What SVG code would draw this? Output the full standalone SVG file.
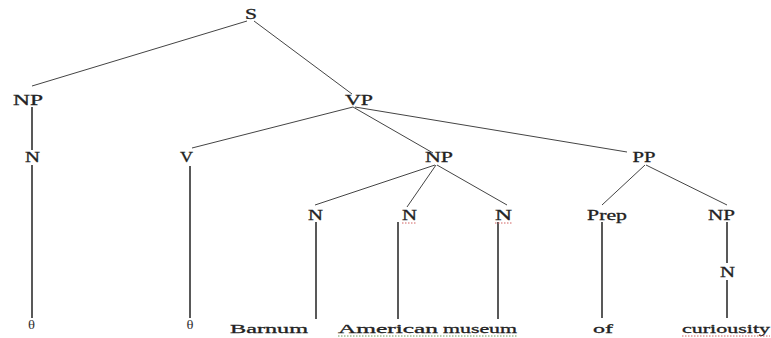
<svg xmlns="http://www.w3.org/2000/svg" width="771" height="338" viewBox="0 0 771 338">
<style>
.lbl{font-family:"Liberation Serif","Times New Roman",serif;font-size:15px;fill:#222;stroke:#222;stroke-width:0.3;text-anchor:middle;}
.wd{font-family:"Liberation Serif","Times New Roman",serif;font-size:13px;fill:#222;stroke:#222;stroke-width:0.3;}
.th{font-family:"Liberation Serif","Times New Roman",serif;font-size:12px;fill:#333;text-anchor:middle;}
.e{stroke:#444;stroke-width:1;fill:none;}
.v{stroke:#222;stroke-width:1.5;fill:none;}
.sq{stroke-width:1;stroke-dasharray:1.5 1.5;fill:none;}
</style>
<rect width="771" height="338" fill="#fff"/>
<g id="connectors">
<line class="e" x1="247" y1="21" x2="32" y2="86"/>
<line class="e" x1="254" y1="21" x2="352" y2="94"/>
<line class="v" x1="32" y1="107" x2="32" y2="150"/>
<line class="v" x1="32" y1="165" x2="32" y2="318"/>
<line class="e" x1="353" y1="107" x2="192" y2="148"/>
<line class="v" x1="190" y1="166" x2="190" y2="318"/>
<line class="e" x1="353" y1="107" x2="433" y2="153"/>
<line class="e" x1="355" y1="107" x2="627" y2="152"/>
<line class="e" x1="435" y1="165" x2="315" y2="205"/>
<line class="e" x1="436" y1="165" x2="407" y2="207"/>
<line class="e" x1="437" y1="165" x2="507" y2="205"/>
<line class="v" x1="316" y1="222" x2="316" y2="319"/>
<line class="v" x1="398" y1="222" x2="398" y2="319"/>
<line class="v" x1="498" y1="222" x2="498" y2="319"/>
<line class="e" x1="645" y1="165" x2="602" y2="205"/>
<line class="e" x1="646" y1="165" x2="727" y2="205"/>
<line class="v" x1="602" y1="222" x2="602" y2="318"/>
<line class="v" x1="727" y1="222" x2="727" y2="263"/>
<line class="v" x1="727" y1="280" x2="727" y2="318"/>
</g>
<g id="S"><text class="lbl" x="251" y="19" textLength="12" lengthAdjust="spacingAndGlyphs">S</text></g>
<g id="NP1"><text class="lbl" x="28" y="105" textLength="30" lengthAdjust="spacingAndGlyphs">NP</text></g>
<g id="VP"><text class="lbl" x="359" y="105" textLength="28" lengthAdjust="spacingAndGlyphs">VP</text></g>
<g id="N1"><text class="lbl" x="32.5" y="162" textLength="15" lengthAdjust="spacingAndGlyphs">N</text></g>
<g id="V"><text class="lbl" x="186.5" y="162" textLength="13" lengthAdjust="spacingAndGlyphs">V</text></g>
<g id="NP2"><text class="lbl" x="439" y="162" textLength="28" lengthAdjust="spacingAndGlyphs">NP</text></g>
<g id="PP"><text class="lbl" x="644" y="162" textLength="23" lengthAdjust="spacingAndGlyphs">PP</text></g>
<g id="N2"><text class="lbl" x="315.5" y="220" textLength="15" lengthAdjust="spacingAndGlyphs">N</text></g>
<g id="N3"><text class="lbl" x="409.5" y="220" textLength="15" lengthAdjust="spacingAndGlyphs">N</text>
<path class="sq" stroke="#d06060" d="M402 223 H417"/></g>
<g id="N4"><text class="lbl" x="503.5" y="220" textLength="17" lengthAdjust="spacingAndGlyphs">N</text>
<path class="sq" stroke="#d06060" d="M495 223 H512"/></g>
<g id="Prep"><text class="lbl" x="607" y="220" textLength="40" lengthAdjust="spacingAndGlyphs">Prep</text></g>
<g id="NP3"><text class="lbl" x="721.5" y="220" textLength="27" lengthAdjust="spacingAndGlyphs">NP</text></g>
<g id="N5"><text class="lbl" x="727.5" y="277" textLength="15" lengthAdjust="spacingAndGlyphs">N</text></g>
<g id="theta1"><text class="th" x="31.5" y="329" textLength="7" lengthAdjust="spacingAndGlyphs">θ</text></g>
<g id="theta2"><text class="th" x="190" y="329" textLength="7" lengthAdjust="spacingAndGlyphs">θ</text></g>
<g id="Barnum"><text class="wd" x="230" y="333" textLength="78" lengthAdjust="spacingAndGlyphs">Barnum</text></g>
<g id="American"><text class="wd" x="338" y="333" textLength="100" lengthAdjust="spacingAndGlyphs">American</text>
<path class="sq" stroke="#6a9a5a" d="M338 336 H517"/></g>
<g id="museum"><text class="wd" x="443" y="333" textLength="74" lengthAdjust="spacingAndGlyphs">museum</text></g>
<g id="of"><text class="wd" x="593" y="333" textLength="20" lengthAdjust="spacingAndGlyphs">of</text></g>
<g id="curiousity"><text class="wd" x="682" y="333" textLength="88" lengthAdjust="spacingAndGlyphs">curiousity</text>
<path class="sq" stroke="#d06060" d="M682 336 H770"/></g>
</svg>
